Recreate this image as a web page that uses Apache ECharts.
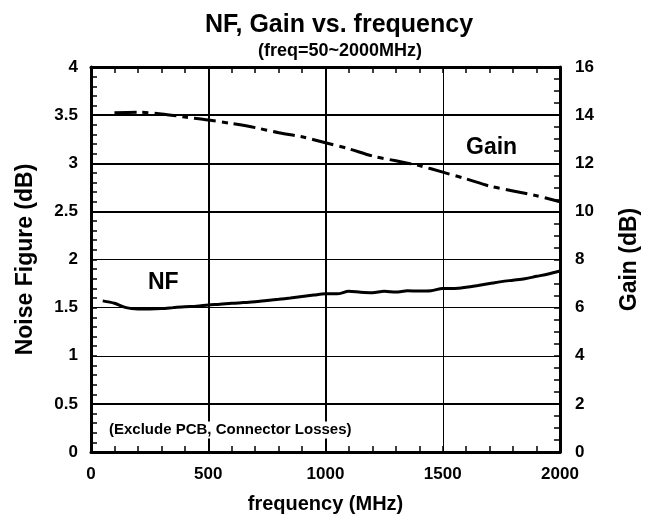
<!DOCTYPE html>
<html>
<head>
<meta charset="utf-8">
<script src="https://cdn.jsdelivr.net/npm/echarts@6/dist/echarts.min.js"></script>
<style>
  html, body { margin: 0; padding: 0; background: #fff; }
  #chart { width: 649px; height: 522px; }
</style>
</head>
<body>
<div id="chart"></div>
<script>
// Noise figure (dB) measured every 50 MHz
const nfFreq = [50,100,150,200,250,300,350,400,450,500,550,600,650,700,750,800,850,900,950,1000,
                1050,1100,1150,1200,1250,1300,1350,1400,1450,1500,1550,1600,1650,1700,1750,1800,1850,1900,1950,2000];
const nfValues = [1.57,1.545,1.50,1.487,1.487,1.49,1.50,1.51,1.515,1.527,1.535,1.545,1.552,1.56,1.575,1.587,1.60,1.615,1.63,1.643,
                  1.643,1.67,1.66,1.655,1.67,1.662,1.675,1.672,1.675,1.70,1.70,1.712,1.73,1.75,1.77,1.785,1.80,1.825,1.85,1.88];

// Gain (dB) measured every 100 MHz
const gainFreq = [100,200,300,400,500,600,700,800,900,1000,1100,1200,1300,1400,1500,1600,1700,1800,1900,2000];
const gainValues = [14.1,14.12,14.05,13.92,13.8,13.65,13.48,13.27,13.1,12.85,12.6,12.3,12.1,11.9,11.63,11.35,11.05,10.85,10.65,10.4];

// Heavier grid lines
const heavyGridNF = [0.5, 2.5, 3, 3.5];
const heavyGridFreq = [500, 1000];

const FONT = 'Liberation Sans, Arial, sans-serif';
const BLACK = '#000';
const tickLabel = { color: BLACK, fontFamily: FONT, fontWeight: 'bold', fontSize: 17, formatter: v => String(v) };
const tickStyle = { show: true, inside: true, length: 6, lineStyle: { color: BLACK, width: 1.5 } };
const frameLine = { show: true, onZero: false, lineStyle: { color: BLACK, width: 3 } };

const chart = echarts.init(document.getElementById('chart'), null, { renderer: 'canvas' });

chart.setOption({
  animation: false,
  backgroundColor: '#fff',
  title: [{
    text: 'NF, Gain vs. frequency',
    left: 334, top: 8, textAlign: 'center',
    textStyle: { color: BLACK, fontFamily: FONT, fontWeight: 'bold', fontSize: 25 }
  }, {
    text: '(freq=50~2000MHz)',
    left: 335, top: 37, textAlign: 'center',
    textStyle: { color: BLACK, fontFamily: FONT, fontWeight: 'bold', fontSize: 18 }
  }],
  grid: { left: 91, right: 86, top: 67, bottom: 70 },
  xAxis: [{
    type: 'value', min: 0, max: 2000, interval: 500, position: 'bottom',
    name: 'frequency (MHz)', nameLocation: 'middle', nameGap: 42,
    nameTextStyle: { color: BLACK, fontFamily: FONT, fontWeight: 'bold', fontSize: 20 },
    axisLine: frameLine,
    axisTick: tickStyle,
    minorTick: { show: true, splitNumber: 5, length: 6, lineStyle: { color: BLACK, width: 1.5 } },
    axisLabel: Object.assign({ margin: 14 }, tickLabel),
    splitLine: { show: true, lineStyle: { color: BLACK, width: 1 } }
  }, {
    type: 'value', min: 0, max: 2000, interval: 500, position: 'top',
    axisLine: frameLine,
    axisTick: tickStyle,
    minorTick: { show: true, splitNumber: 5, length: 6, lineStyle: { color: BLACK, width: 1.5 } },
    axisLabel: { show: false },
    splitLine: { show: false }
  }],
  yAxis: [{
    type: 'value', min: 0, max: 4, interval: 0.5, position: 'left',
    name: 'Noise Figure (dB)', nameLocation: 'middle', nameGap: 54, nameRotate: 90,
    nameTextStyle: { color: BLACK, fontFamily: FONT, fontWeight: 'bold', fontSize: 23 },
    axisLine: frameLine,
    axisTick: tickStyle,
    minorTick: { show: true, splitNumber: 5, length: 6, lineStyle: { color: BLACK, width: 1.5 } },
    axisLabel: Object.assign({ margin: 13 }, tickLabel),
    splitLine: { show: true, lineStyle: { color: BLACK, width: 1 } }
  }, {
    type: 'value', min: 0, max: 16, interval: 2, position: 'right',
    name: 'Gain (dB)', nameLocation: 'middle', nameGap: 58, nameRotate: 90,
    nameTextStyle: { color: BLACK, fontFamily: FONT, fontWeight: 'bold', fontSize: 23 },
    axisLine: frameLine,
    axisTick: tickStyle,
    minorTick: { show: true, splitNumber: 4, length: 6, lineStyle: { color: BLACK, width: 1.5 } },
    axisLabel: Object.assign({ margin: 15 }, tickLabel),
    splitLine: { show: false }
  }],
  series: [{
    name: 'grid',
    type: 'line', data: [], xAxisIndex: 0, yAxisIndex: 0, silent: true,
    markLine: {
      symbol: 'none', silent: true, animation: false,
      label: { show: false },
      lineStyle: { color: BLACK, width: 2, type: 'solid' },
      data: heavyGridNF.map(v => ({ yAxis: v })).concat(heavyGridFreq.map(v => ({ xAxis: v })))
    }
  }, {
    name: 'NF',
    type: 'line', xAxisIndex: 0, yAxisIndex: 0,
    data: nfFreq.map((f, i) => [f, nfValues[i]]),
    showSymbol: false, smooth: 0.3,
    lineStyle: { color: BLACK, width: 3 }
  }, {
    name: 'Gain',
    type: 'line', xAxisIndex: 0, yAxisIndex: 1,
    data: gainFreq.map((f, i) => [f, gainValues[i]]),
    showSymbol: false, smooth: 0.3,
    lineStyle: { color: BLACK, width: 3, type: [22, 6, 6, 6] }
  }],
  graphic: [{
    type: 'text', x: 463, y: 148, z: 100,
    style: {
      text: 'Gain', fill: BLACK, font: 'bold 23px ' + FONT,
      align: 'left', verticalAlign: 'middle',
      backgroundColor: '#fff', padding: [0, 4, 0, 3]
    }
  }, {
    type: 'text', x: 148, y: 283, z: 100,
    style: { text: 'NF', fill: BLACK, font: 'bold 23px ' + FONT, align: 'left', verticalAlign: 'middle' }
  }, {
    type: 'text', x: 107, y: 430, z: 100,
    style: {
      text: '(Exclude PCB, Connector Losses)', fill: BLACK, font: 'bold 15px ' + FONT,
      align: 'left', verticalAlign: 'middle',
      backgroundColor: '#fff', padding: [1, 2, 1, 2]
    }
  }]
});
</script>
</body>
</html>
